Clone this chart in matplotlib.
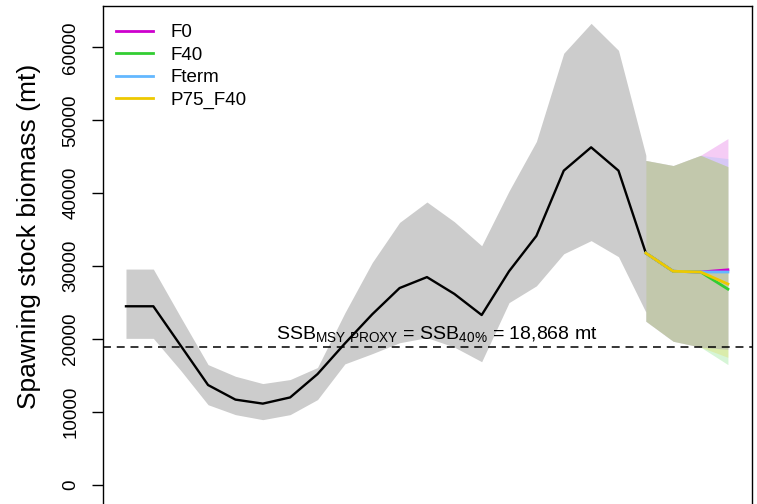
import numpy as np
import matplotlib
matplotlib.use("Agg")
import matplotlib.pyplot as plt
from matplotlib.lines import Line2D

plt.rcParams['font.family'] = ['Liberation Sans', 'DejaVu Sans']
plt.rcParams['mathtext.default'] = 'regular'

"=============================="
"Historical SSB and its interval"
"=============================="
years = np.arange(2001, 2021)
ssb = [24500, 24500, 19100, 13700, 11700, 11150, 12000, 15200, 19400, 23400,
       27000, 28500, 26200, 23300, 29300, 34150, 43100, 46300, 43100, 31800]
ssb_hi = [29600, 29600, 23000, 16500, 14900, 13900, 14450, 16100, 23600, 30500,
          36000, 38800, 36100, 32800, 40300, 47100, 59200, 63300, 59600, 45200]
ssb_lo = [20100, 20100, 15700, 11000, 9640, 8950, 9640, 11700, 16600, 18000,
          19500, 20200, 18900, 16900, 25000, 27300, 31700, 33500, 31300, 23700]

"=============================="
"Projections"
"=============================="
proj_years = np.arange(2020, 2024)
scenarios = ['F0', 'F40', 'Fterm', 'P75_F40']
proj_med = {
    'F0':      [31800, 29300, 29200, 29500],
    'F40':     [31800, 29300, 29200, 26850],
    'Fterm':   [31800, 29300, 29200, 29200],
    'P75_F40': [31800, 29300, 29200, 27550],
}
proj_hi = {
    'F0':      [44500, 43800, 45200, 47500],
    'F40':     [44500, 43800, 45200, 43650],
    'Fterm':   [44500, 43800, 45200, 44750],
    'P75_F40': [44500, 43800, 45200, 43650],
}
proj_lo = {
    'F0':      [22450, 19700, 18900, 18600],
    'F40':     [22450, 19700, 18900, 16500],
    'Fterm':   [22450, 19700, 18900, 18600],
    'P75_F40': [22450, 19700, 18900, 17500],
}
ssb_ref = 18868

line_col = {'F0': '#CD00CD', 'F40': '#32CD32', 'Fterm': '#63B8FF', 'P75_F40': '#EEC900'}

fig = plt.figure(figsize=(7.57, 5.04), dpi=100)
ax = fig.add_axes([103/757, 0, (752-103)/757, (504-6)/504])

ax.fill_between(years, ssb_lo, ssb_hi, color='#CCCCCC', lw=0)
for s in scenarios:
    ax.fill_between(proj_years, proj_lo[s], proj_hi[s], color=line_col[s], alpha=0.2, lw=0)

ax.plot(years, ssb, color='black', lw=1.7)
for s in scenarios:
    ax.plot(proj_years, proj_med[s], color=line_col[s], lw=2)

ax.axhline(ssb_ref, color='black', ls=(0, (5.2, 3.8)), lw=1.1)
ax.text(2012.37, ssb_ref + 500, r'SSB$_{MSY\ PROXY}$ = SSB$_{40\%}$ = 18,868 mt',
        ha='center', va='bottom', fontsize=14)

ax.set_xlim(2000.16, 2023.88)
ax.set_ylim(-2616, 65680)
ax.set_xticks([])
ax.set_yticks(np.arange(0, 60001, 10000))
ax.set_yticklabels([str(v) for v in range(0, 60001, 10000)], rotation=90, va='center', fontsize=13.5)
ax.tick_params(axis='y', length=8, width=1, pad=9)
ax.spines['bottom'].set_visible(False)
for sp in ['left', 'right', 'top']:
    ax.spines[sp].set_linewidth(1)
ax.set_ylabel('Spawning stock biomass (mt)', fontsize=19)
ax.yaxis.set_label_coords(-62 / 649, 0.538)

handles = [Line2D([], [], color=line_col[s], lw=2) for s in scenarios]
ax.legend(handles, scenarios, loc='upper left', bbox_to_anchor=(0.0, 0.990),
          frameon=False, fontsize=13.5, handlelength=1.95, handletextpad=0.95,
          labelspacing=0.29, borderaxespad=0.3)

fig.savefig('out.png', dpi=100)
